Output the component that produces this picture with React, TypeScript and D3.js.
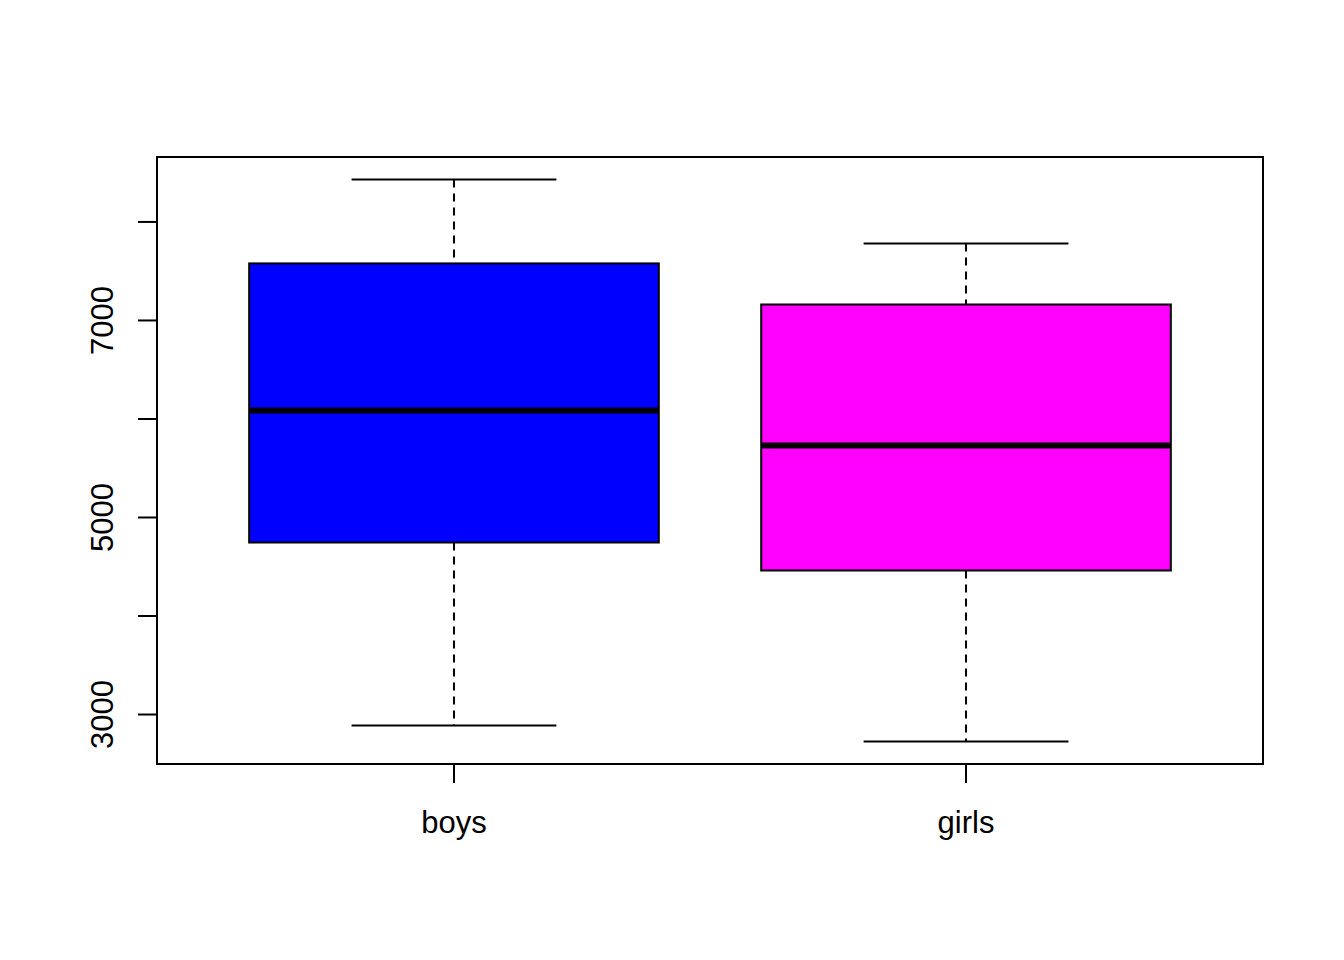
import React from "react";
import * as d3 from "d3";

const categories = ["boys", "girls"];
const lowerWhisker = [2888, 2726];
const q1 = [4746, 4462];
const median = [6086, 5731];
const q3 = [7579, 7162];
const upperWhisker = [8431, 7782];
const fills = ["#0000FF", "#FF00FF"];
const yTicks = [3000, 4000, 5000, 6000, 7000, 8000];
const yLabels = [3000, 5000, 7000];

const W = 1344;
const H = 960;
const plot = { left: 157, right: 1263, top: 157, bottom: 764 };

export default function App() {
  const lo = d3.min(lowerWhisker)!;
  const hi = d3.max(upperWhisker)!;
  const pad = (hi - lo) * 0.04;
  const y = d3.scaleLinear().domain([lo - pad, hi + pad]).range([plot.bottom, plot.top]);
  const n = categories.length;
  const xpad = n * 0.04;
  const x = d3.scaleLinear().domain([0.5 - xpad, n + 0.5 + xpad]).range([plot.left, plot.right]);
  const boxHalf = 0.4;
  const capHalf = 0.2;
  const font = "Liberation Sans, Arial, sans-serif";
  const fs = 31;

  return (
    <svg width={W} height={H} style={{ position: "absolute", left: 0, top: 0, display: "block", background: "#fff" }}>
      <rect x={0} y={0} width={W} height={H} fill="#fff" />
      {categories.map((c, i) => {
        const cx = x(i + 1);
        return (
          <g key={c}>
            <line x1={cx} x2={cx} y1={y(upperWhisker[i])} y2={y(q3[i])} stroke="#000" strokeWidth={2} strokeDasharray="8,6" />
            <line x1={cx} x2={cx} y1={y(q1[i])} y2={y(lowerWhisker[i])} stroke="#000" strokeWidth={2} strokeDasharray="8,6" />
            <line x1={x(i + 1 - capHalf)} x2={x(i + 1 + capHalf)} y1={y(upperWhisker[i])} y2={y(upperWhisker[i])} stroke="#000" strokeWidth={2} />
            <line x1={x(i + 1 - capHalf)} x2={x(i + 1 + capHalf)} y1={y(lowerWhisker[i])} y2={y(lowerWhisker[i])} stroke="#000" strokeWidth={2} />
            <rect
              x={x(i + 1 - boxHalf)}
              y={y(q3[i])}
              width={x(i + 1 + boxHalf) - x(i + 1 - boxHalf)}
              height={y(q1[i]) - y(q3[i])}
              fill={fills[i]}
              stroke="#000"
              strokeWidth={2}
            />
            <line x1={x(i + 1 - boxHalf)} x2={x(i + 1 + boxHalf)} y1={y(median[i])} y2={y(median[i])} stroke="#000" strokeWidth={6} />
            <line x1={cx} x2={cx} y1={plot.bottom} y2={plot.bottom + 19} stroke="#000" strokeWidth={2} />
            <text x={cx} y={833} textAnchor="middle" fontFamily={font} fontSize={fs} fill="#000">{c}</text>
          </g>
        );
      })}
      {yTicks.map((t) => (
        <line key={t} x1={plot.left - 19} x2={plot.left} y1={y(t)} y2={y(t)} stroke="#000" strokeWidth={2} />
      ))}
      {yLabels.map((t) => (
        <text key={t} transform={`translate(113,${y(t)}) rotate(-90)`} textAnchor="middle" fontFamily={font} fontSize={fs} fill="#000">{t}</text>
      ))}
      <rect x={plot.left} y={plot.top} width={plot.right - plot.left} height={plot.bottom - plot.top} fill="none" stroke="#000" strokeWidth={2} />
    </svg>
  );
}
